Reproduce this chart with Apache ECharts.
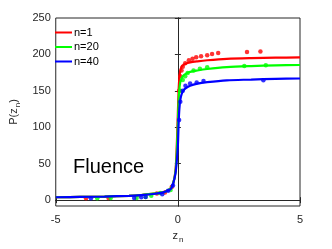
<!DOCTYPE html>
<html><head><meta charset="utf-8">
<script src="https://cdn.jsdelivr.net/npm/echarts@6/dist/echarts.min.js"></script>
<style>html,body{margin:0;padding:0;background:#fff}#c{width:332px;height:249px}</style>
</head><body><div id="c"></div>
<script>
var curveZ = [-5,-4,-3,-2,-1.5,-1,-0.7,-0.5,-0.3,-0.2,-0.1,-0.05,0,0.03,0.06,0.1,0.15,0.2,0.3,0.5,0.8,1.2,2,3,4,5];
var curveN1 = [4,4.5,5,6,7,9,10,12,16,22,40,70,120,150,168,178,183,185,187,189,190.5,192,194,195,195.5,196];
var curveN20 = [4,4.5,5,6,7,9,10,12,16,22,38,62,105,135,152,162,167,170,173,176,178,180,182.5,184,185,185.5];
var curveN40 = [4,4.5,5,6,7,8.5,10,12,15,22,36,52,75,105,125,138,145,149,153,157,160,162,164.5,165.5,166.5,167];

var ptsN1Z = [-3.76,-2.84,-0.86,-0.53,-0.25,0.05,0.1,0.15,0.2,0.3,0.45,0.6,0.75,0.95,1.2,1.4,1.65,2.83,3.38];
var ptsN1V = [2.5,3,9,10.5,18,150,170,178,183,188,192,194,196,197.5,199,200.5,202,203.5,204];
var ptsN20Z = [-3.3,-2.75,-1.69,-1.32,-1.09,-0.73,-0.3,0.1,0.2,0.3,0.4,0.64,0.9,1.2,2.72,3.6];
var ptsN20V = [2.5,3,3,4.5,6,10,14,150,165,170,174.5,178,180.5,182.5,184,185];
var ptsN40Z = [-3.56,-1.79,-1.5,-1.32,-0.64,-0.4,-0.2,0.05,0.1,0.2,0.31,0.5,0.77,1.05,3.5];
var ptsN40V = [2.5,3,4,4.5,8,13,20,110,135,150,157,160,161.5,163.5,164.6];

var seriesNames = ['n=1','n=20','n=40'];
var colors = ['#ff0000','#00ff00','#0000ff'];
var yTicks = [0,50,100,150,200,250];
var xTicks = [-5,0,5];

function zip(a,b){return a.map(function(v,i){return [v,b[i]];});}
var curves = [curveN1, curveN20, curveN40];
var pts = [[ptsN1Z,ptsN1V],[ptsN20Z,ptsN20V],[ptsN40Z,ptsN40V]];
var series = [];
for (var i=0;i<3;i++){
  series.push({type:'line',name:seriesNames[i],data:zip(curveZ,curves[i]),showSymbol:false,symbol:'none',
    lineStyle:{color:colors[i],width:2.2},itemStyle:{color:colors[i]},smooth:0.3,z:2+i*2,animation:false});
  series.push({type:'scatter',name:'pts'+i,data:zip(pts[i][0],pts[i][1]),symbol:'circle',symbolSize:4.5,
    itemStyle:{color:colors[i]},z:3+i*2,animation:false});
}
var axC = '#262626';
var FF = 'Liberation Sans, Arial, sans-serif';
var chart = echarts.init(document.getElementById('c'),null,{renderer:'canvas'});
chart.setOption({
  animation:false,
  grid:{left:47,right:32,top:18,bottom:41,show:true,borderColor:axC,borderWidth:1,backgroundColor:'transparent'},
  legend:{data:seriesNames,orient:'vertical',left:55,top:27,padding:0,itemWidth:17,itemHeight:2,itemGap:3.5,icon:'rect',
    textStyle:{fontSize:11,color:'#000',fontFamily:FF,padding:[0,0,0,-3]},selectedMode:false},
  xAxis:[{type:'value',min:-5,max:5,interval:5,position:'bottom',
    name:'{z|z}{s|n}',nameLocation:'middle',nameGap:22,
    nameTextStyle:{rich:{z:{fontSize:11,color:axC,fontFamily:FF},s:{fontSize:8,color:axC,padding:[8,0,0,1],fontFamily:FF}}},
    axisLine:{show:true,lineStyle:{color:axC,width:1}},axisTick:{show:true,inside:true,length:3,lineStyle:{color:axC}},
    axisLabel:{fontSize:11,color:axC,margin:8,fontFamily:FF},splitLine:{show:false}},
   {type:'value',min:-5,max:5,interval:5,position:'top',axisLine:{show:true,lineStyle:{color:axC,width:1}},
    axisTick:{show:true,inside:true,length:3,lineStyle:{color:axC}},axisLabel:{show:false},splitLine:{show:false}}],
  yAxis:[{type:'value',min:-8,max:250,position:'left',
    name:'{p|P(z}{s|n}{p|)}',nameLocation:'middle',nameGap:32,nameRotate:90,
    nameTextStyle:{rich:{p:{fontSize:11,color:axC,fontFamily:FF},s:{fontSize:8,color:axC,padding:[8,0,0,1],fontFamily:FF}}},
    axisLine:{show:true,lineStyle:{color:axC,width:1}},axisTick:{show:true,inside:true,length:3,customValues:yTicks,lineStyle:{color:axC}},
    axisLabel:{fontSize:11,color:axC,margin:5,fontFamily:FF,customValues:yTicks},splitLine:{show:false}},
   {type:'value',min:-8,max:250,position:'right',axisLine:{show:true,lineStyle:{color:axC,width:1}},
    axisTick:{show:true,inside:true,length:3,customValues:yTicks,lineStyle:{color:axC}},axisLabel:{show:false},splitLine:{show:false}}],
  graphic:[{type:'text',left:73,top:157,style:{text:'Fluence',fontSize:20,fill:'#000',fontFamily:FF}}],
  series:series
});
</script></body></html>
